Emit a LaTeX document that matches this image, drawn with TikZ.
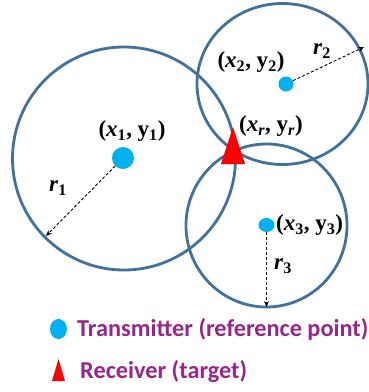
\documentclass[tikz,border=0pt]{standalone}
\usepackage{fontspec}
\setmainfont{Liberation Serif}
\newfontfamily\lblfont{Liberation Serif}[BoldFont={Liberation Serif Bold}, BoldItalicFont={Liberation Serif Bold Italic}]
\newfontfamily\legendfont{Carlito}
\usetikzlibrary{arrows.meta,shapes.geometric}

\definecolor{ringblue}{RGB}{65,113,156}
\definecolor{dotcyan}{RGB}{0,176,240}
\definecolor{legendpurple}{RGB}{150,38,140}

\tikzset{
  ring/.style={draw=ringblue, line width=2.8pt},
  txdot/.style={ellipse, fill=dotcyan, inner sep=0pt},
  rad/.style={dashed, dash pattern=on 3pt off 2pt, line width=0.9pt, -{Stealth[length=6pt,width=5pt]}},
  lbl/.style={font=\lblfont\fontsize{23}{26}\selectfont\bfseries, inner sep=0pt},
  legendtxt/.style={font=\legendfont\fontsize{24.3}{28}\selectfont\bfseries, text=legendpurple, anchor=west, inner sep=0pt}
}

\begin{document}
\begin{tikzpicture}[x=1pt, y=-1pt]

\useasboundingbox (0,0) rectangle (369,392);

% ============================================
% 1. OKRĘGI
% ============================================
\draw[ring] (124,158.5) ellipse[x radius=111.5, y radius=111.5];
\draw[ring] (282.5,84) ellipse[x radius=85.5, y radius=80.5];
\draw[ring] (266.5,225.5) ellipse[x radius=80.5, y radius=81.5];

% ============================================
% 2. NADAJNIKI
% ============================================
\node[txdot, minimum size=22pt] (t1) at (123,158) {};
\node[txdot, minimum size=15pt] (t2) at (286,84) {};
\node[txdot, minimum width=16pt, minimum height=14pt] (t3) at (266.5,225) {};

% końce promieni
\coordinate (e1) at (46,236);
\coordinate (e2) at (364,47);
\coordinate (e3) at (266.5,307);

\draw[rad] (t1) -- (e1);
\draw[rad] (t2) -- (e2);
\draw[rad] (t3) -- (e3);

% ============================================
% 3. ODBIORNIK
% ============================================
\coordinate (ra) at (233,127);
\coordinate (rb) at (221,164);
\coordinate (rc) at (245,164);
\fill[red] (ra) -- (rb) -- (rc) -- cycle;

% ============================================
% 4. ETYKIETY
% ============================================
\node[lbl] (l1) at (132,131) {(\textit{x}\textsubscript{1}, y\textsubscript{1})};
\node[lbl] (l2) at (251,62) {(\textit{x}\textsubscript{2}, y\textsubscript{2})};
\node[lbl] (lr) at (271,126) {(\textit{x}\textsubscript{\textit{r}}, y\textsubscript{\textit{r}})};
\node[lbl, anchor=west] (l3) at (276,225) {(\textit{x}\textsubscript{3}, y\textsubscript{3})};

\node[lbl] (r1) at (58,188) {\textit{r}\textsubscript{1}};
\node[lbl] (r2) at (322,51) {\textit{r}\textsubscript{2}};
\node[lbl] (r3) at (283,266) {\textit{r}\textsubscript{3}};

% ============================================
% 5. LEGENDA
% ============================================
\node[txdot, minimum width=17pt, minimum height=20pt] (ltx) at (58.5,329) {};
\coordinate (la) at (58.5,359);
\coordinate (lb) at (52,381);
\coordinate (lc) at (65,381);
\fill[red] (la) -- (lb) -- (lc) -- cycle;

\node[legendtxt] (ttx) at (77,329) {Transmitter (reference point)};
\node[legendtxt] (trx) at (80,372) {Receiver (target)};

\end{tikzpicture}
\end{document}
